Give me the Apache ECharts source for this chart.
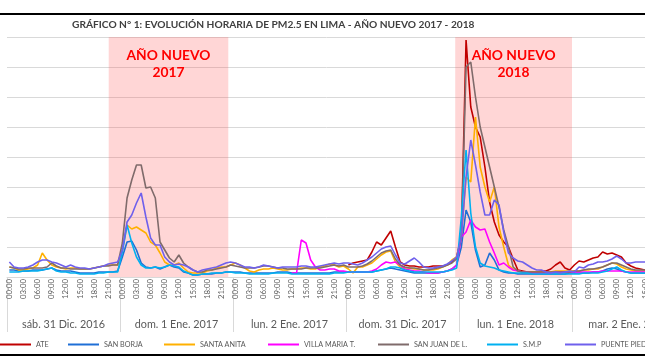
<!DOCTYPE html>
<html><head><meta charset="utf-8">
<script src="https://cdn.jsdelivr.net/npm/echarts@6/dist/echarts.min.js"></script>
<style>html,body{margin:0;padding:0;background:#fff}#c{width:645px;height:363px}</style>
</head><body><div id="c"></div>
<script>
const dayLabels = ['sáb. 31 Dic. 2016','dom. 1 Ene. 2017','lun. 2 Ene. 2017','dom. 31 Dic. 2017','lun. 1 Ene. 2018','mar. 2 Ene. 2018'];
const hourLabels = ['00:00','01:00','02:00','03:00','04:00','05:00','06:00','07:00','08:00','09:00','10:00','11:00','12:00','13:00','14:00','15:00','16:00','17:00','18:00','19:00','20:00','21:00','22:00','23:00'];
const N = null;
const ate = [
 N,N,N,N,N,N,N,N,N,N,N,N,N,N,N,N,N,N,N,N,N,N,N,N,
 N,N,N,N,N,N,N,N,N,N,N,N,N,N,N,N,N,N,N,N,N,N,N,N,
 N,N,N,N,N,N,N,N,N,N,N,N,N,N,N,N,N,N,N,N,N,N,N,N,
 12,14,15,16,17,25,35,32,39,46,30,15,12,11,11,10,10,10,11,11,11,12,15,20,
 40,237,170,150,140,110,75,55,42,35,30,18,7,6,5,5,5,6,6,8,12,15,9,7,
 12,16,15,17,19,20,25,23,24,22,20,14,11,9,8,7,7,7,7,7,7,7,7,7];
const sanBorja = [
 7,7,6,6,6,7,7,7,8,9,7,6,6,6,5,4,4,4,4,5,5,5,5,6,
 20,35,36,27,14,10,9,10,8,10,12,10,9,5,4,2,2,3,3,3,4,4,5,5,
 5,5,4,4,4,4,4,4,4,5,5,5,4,4,4,4,4,4,4,4,4,5,5,5,
 5,5,5,5,5,5,6,7,8,9,8,7,6,5,4,4,4,4,4,4,5,6,8,12,
 30,67,55,27,10,12,24,17,7,5,4,4,3,3,3,3,3,3,3,3,3,3,3,4,
 4,4,4,4,5,5,6,8,9,8,6,5,4,4,4,4,4,4,4,4,4,4,4,4];
const santaAnita = [
 10,9,7,7,8,9,12,24,17,12,10,9,8,9,9,8,8,8,9,10,11,12,12,12,
 27,52,48,50,47,44,35,32,24,15,12,12,14,9,5,4,4,4,6,7,9,10,10,12,
 14,12,9,6,5,7,8,8,9,8,7,7,8,8,9,9,8,8,10,11,13,12,10,11,
 8,4,10,10,12,14,18,22,25,26,15,10,9,9,8,8,7,7,7,8,10,12,17,20,
 40,100,95,160,110,90,75,90,50,30,12,8,6,5,5,5,5,5,5,5,6,6,6,6,
 6,6,7,7,8,8,10,12,14,13,10,8,7,6,6,6,6,6,6,6,6,6,6,6];
const villaMaria = [
 N,N,N,N,N,N,N,N,N,N,N,N,N,N,N,N,N,N,N,N,N,N,N,N,
 N,N,N,N,N,N,N,N,N,N,N,N,N,N,N,N,N,N,N,N,N,N,N,N,
 N,N,N,N,N,N,N,N,N,N,N,N,4,4,37,34,17,10,7,7,8,8,6,6,
 5,5,5,5,5,6,8,12,15,14,15,12,8,7,6,6,5,4,4,4,5,6,8,12,
 40,45,57,50,47,48,35,24,12,14,10,7,6,5,5,4,4,4,4,4,5,5,5,5,
 5,5,5,5,5,5,6,6,6,6,6,5,5,5,5,5,5,5,5,5,5,5,5,5];
const sanJuan = [
 10,9,8,8,9,9,9,9,10,14,11,9,9,8,8,8,8,8,9,10,11,11,12,12,
 34,79,97,112,112,89,90,79,35,27,19,15,22,14,10,7,5,5,7,7,8,9,10,12,
 11,10,9,9,9,10,11,11,10,9,9,8,8,8,8,9,9,9,9,10,11,12,11,12,
 10,10,10,11,13,16,20,24,26,27,18,12,10,9,9,8,7,7,8,9,10,12,14,18,
 40,210,215,180,150,130,110,90,70,47,30,10,6,5,5,5,5,5,5,5,5,5,5,5,
 6,6,7,8,8,9,10,12,14,14,12,10,8,7,7,7,7,7,7,7,7,7,7,7];
const smp = [
 5,5,5,6,6,6,6,7,8,9,6,5,5,4,4,3,3,3,3,4,4,5,5,5,
 25,52,34,20,12,9,9,10,9,10,12,11,10,6,4,2,2,3,3,4,4,4,5,5,
 4,4,4,3,3,3,3,3,4,4,4,4,3,3,3,3,3,3,3,3,3,4,4,4,
 5,5,5,5,5,5,6,7,8,10,10,9,7,6,5,5,5,5,5,5,5,6,7,9,
 60,127,64,30,14,11,10,9,7,6,5,4,4,4,4,3,3,3,3,3,3,3,3,3,
 3,3,4,4,4,4,5,6,8,10,7,5,4,4,4,4,4,4,4,4,4,4,4,4];
const puentePiedra = [
 15,10,9,9,10,12,15,17,17,15,14,12,10,12,10,9,9,8,9,10,11,13,14,15,
 27,55,62,74,84,60,39,32,32,20,15,12,13,12,10,7,5,7,8,9,10,12,14,15,
 14,12,10,10,9,10,12,11,10,9,10,10,10,10,11,11,10,10,11,12,13,14,13,14,
 14,13,12,14,17,20,24,28,30,31,22,14,13,16,19,15,10,9,9,10,11,13,16,20,
 40,100,137,112,85,62,62,77,72,45,24,19,16,15,12,9,7,7,5,4,5,4,5,6,
 5,10,9,12,13,15,15,16,18,21,18,14,14,15,15,15,14,14,13,12,12,12,12,12];
const seriesNames = ['ATE','SAN BORJA','SANTA ANITA','VILLA MARIA T.','SAN JUAN DE L.','S.M.P','PUENTE PIEDRA'];
const seriesData = [ate, sanBorja, santaAnita, villaMaria, sanJuan, smp, puentePiedra];
const seriesColors = ['#C00000','#1F6FD6','#FFB000','#FF00FF','#7F6B6B','#00B0F0','#6F60EC'];
const legendLeft = [0, 68, 164, 268, 378, 487, 565];
const bands = [[21.6, 47, 'AÑO NUEVO\n2017'], [95.2, 120, 'AÑO NUEVO\n2018']];

const categories = [];
dayLabels.forEach((d, di) => hourLabels.forEach(h => categories.push(di + '|' + h)));

const FONT = 'Lato, "Open Sans", sans-serif';
const chart = echarts.init(document.getElementById('c'), null, {renderer: 'canvas'});
const series = seriesNames.map((n, i) => ({
  name: n, type: 'line', data: seriesData[i], symbol: 'none', xAxisIndex: 0, yAxisIndex: 0,
  lineStyle: {width: 1.6, color: seriesColors[i]}, itemStyle: {color: seriesColors[i]},
  connectNulls: false, animation: false, z: 3
}));
series.unshift({
  type: 'line', xAxisIndex: 2, yAxisIndex: 0, data: [], silent: true, animation: false,
  markArea: {
    silent: true,
    itemStyle: {color: 'rgba(255,90,90,0.25)'},
    label: {position: 'insideTop', distance: 10, color: '#FF0000', fontWeight: 'bold', fontSize: 13.8, lineHeight: 17, fontFamily: FONT},
    data: bands.map(b => [{xAxis: b[0], name: b[2]}, {xAxis: b[1]}])
  }
});
chart.setOption({
  animation: false,
  title: {text: 'GRÁFICO N° 1: EVOLUCIÓN HORARIA DE PM2.5 EN LIMA - AÑO NUEVO 2017 - 2018', left: 72, top: 20, padding: 0,
    textStyle: {fontSize: 10.2, fontWeight: 'bold', color: '#404040', fontFamily: FONT}},
  grid: {left: 7, top: 37, width: 678, height: 240, containLabel: false, outerBoundsMode: 'none'},
  legend: seriesNames.map((n, i) => ({
    data: [n], left: legendLeft[i], top: 341, padding: 0, itemWidth: 31, itemHeight: 2, itemGap: 0, icon: 'rect',
    textStyle: {fontSize: 7.2, color: '#595959', fontFamily: FONT}, selectedMode: false
  })),
  xAxis: [
    {type: 'category', data: categories, boundaryGap: true,
     axisLine: {lineStyle: {color: '#D9D9D9', width: 1}},
     axisTick: {show: true, interval: (i) => i % 24 === 0, length: 55, lineStyle: {color: '#D9D9D9'}},
     axisLabel: {interval: (i) => i % 3 === 0, rotate: 90, margin: 2, fontSize: 7.8, color: '#595959', fontFamily: FONT,
       formatter: v => v.split('|')[1]}},
    {type: 'category', data: dayLabels, position: 'bottom', boundaryGap: true,
     axisLine: {show: false}, axisTick: {show: false},
     axisLabel: {margin: 42, fontSize: 10.8, color: '#595959', fontFamily: FONT, interval: 0}},
    {type: 'value', min: 0, max: 144, show: false}
  ],
  yAxis: {type: 'value', min: 0, max: 240, interval: 30, axisLabel: {show: false}, axisLine: {show: false}, axisTick: {show: false},
    splitLine: {lineStyle: {color: '#D9D9D9', width: 1}}},
  graphic: [
    {type: 'line', shape: {x1: 0, y1: 14, x2: 645, y2: 14}, style: {stroke: '#000', lineWidth: 2}},
    {type: 'line', shape: {x1: 0, y1: 355, x2: 645, y2: 355}, style: {stroke: '#000', lineWidth: 2}}
  ],
  series: series
});
</script></body></html>
